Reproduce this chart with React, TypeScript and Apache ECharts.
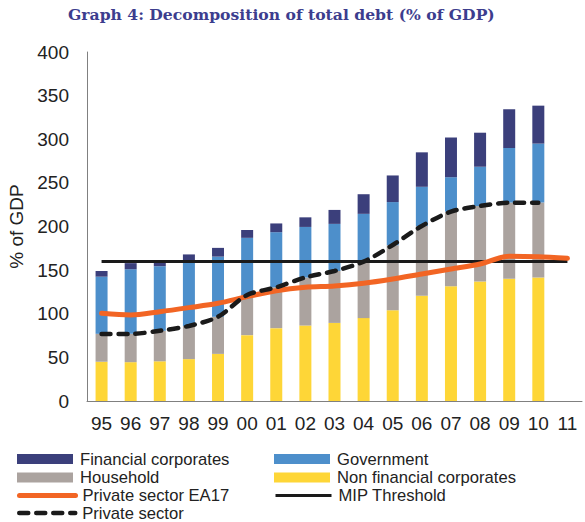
import React, { useEffect, useRef } from "react";
import * as echarts from "echarts";

const years = ["95", "96", "97", "98", "99", "00", "01", "02", "03", "04", "05", "06", "07", "08", "09", "10", "11"];
const nonFinancialCorporates = [45, 44.5, 45.5, 48, 54, 75.5, 83.5, 86.5, 89.5, 95, 104, 120.5, 131.5, 137, 140, 141.5, null];
const household = [32, 32.5, 35, 38, 42.5, 46, 47, 55, 59.5, 64.5, 74.5, 80, 85.5, 86.5, 87.5, 86, null];
const government = [65.5, 74, 74, 75.5, 69, 65.5, 63, 58, 54, 55, 49.5, 45, 39.5, 45, 62.5, 67.5, null];
const financialCorporates = [6.5, 7, 5, 6.5, 10, 9, 10, 11, 16, 22.5, 30.5, 39.5, 45.5, 39, 44.5, 43.5, null];
const privateSectorEA17 = [100.5, 98.6, 102.4, 107, 112, 119.6, 126.4, 130.3, 131.8, 134.9, 139.8, 145.6, 151.3, 157, 166, 165.4, 163.5];
const mipThreshold = [160, 160, 160, 160, 160, 160, 160, 160, 160, 160, 160, 160, 160, 160, 160, 160, 160];
const privateSector = [76.8, 76.8, 80.6, 86, 96.6, 121.5, 130.3, 141.7, 149, 159.7, 178.8, 200.6, 217, 223.5, 227.3, 227.3, null];

const FONT = "'Liberation Sans', Arial, sans-serif";

const NAVY = "#3b3f7b";
const BLUE = "#4d8fcb";
const GREY = "#aba39f";
const YELLOW = "#fed637";
const ORANGE = "#f26524";
const BLACK = "#1a1a1a";

export default function App() {
  const ref = useRef<HTMLDivElement>(null);
  useEffect(() => {
    if (!ref.current) return;
    const chart = echarts.init(ref.current, undefined, { renderer: "svg" });
    const legendText = { fontFamily: FONT, fontSize: 16.6, color: "#222", lineHeight: 18, padding: [0, 0, 0, 2] };
    const rowsY = [459, 477.5, 495.5, 513];
    const mk = (name: string, left: number, row: number, extra: any) => ({
      orient: "horizontal",
      left,
      top: rowsY[row] - 9,
      padding: 0,
      itemWidth: 56,
      itemHeight: 10,
      textStyle: legendText,
      data: [{ name, ...extra }],
    });
    chart.setOption({
      animation: false,
      backgroundColor: "#fff",
      title: {
        text: "Graph 4: Decomposition of total debt (% of GDP)",
        left: 68,
        top: 6,
        padding: 0,
        textStyle: { fontFamily: "'DejaVu Serif', serif", fontWeight: "bold", fontSize: 15.6, color: "#3c3d8e" },
      },
      grid: { left: 87, top: 52, width: 495, height: 349, containLabel: false, outerBoundsMode: "none" },
      legend: [
        mk("Financial corporates", 17, 0, { icon: "rect" }),
        mk("Household", 17, 1, { icon: "rect" }),
        mk("Private sector EA17", 17, 2, { itemStyle: { opacity: 0 }, lineStyle: { width: 5, color: ORANGE, cap: "round" } }),
        mk("Private sector", 17, 3, { itemStyle: { opacity: 0 }, lineStyle: { width: 4.5, color: BLACK, type: [9, 8], cap: "round" } }),
        mk("Government", 274, 0, { icon: "rect" }),
        mk("Non financial corporates", 274, 1, { icon: "rect" }),
        mk("MIP Threshold", 274, 2, { itemStyle: { opacity: 0 }, lineStyle: { width: 3, color: BLACK } }),
      ],
      xAxis: {
        type: "category",
        data: years,
        axisLine: { lineStyle: { color: "#808080", width: 1 } },
        axisTick: { show: false },
        axisLabel: { fontFamily: FONT, fontSize: 19, color: "#222", margin: 13 },
      },
      yAxis: {
        type: "value",
        min: 0,
        max: 400,
        interval: 50,
        name: "% of GDP",
        nameLocation: "middle",
        nameGap: 57,
        nameRotate: 90,
        nameTextStyle: { fontFamily: FONT, fontSize: 19, color: "#222" },
        axisLine: { show: true, lineStyle: { color: "#808080", width: 1 } },
        axisTick: { show: false },
        splitLine: { show: false },
        axisLabel: { fontFamily: FONT, fontSize: 19, color: "#222", margin: 18 },
      },
      series: [
        { name: "Non financial corporates", type: "bar", stack: "total", barWidth: 12, data: nonFinancialCorporates, itemStyle: { color: YELLOW } },
        { name: "Household", type: "bar", stack: "total", barWidth: 12, data: household, itemStyle: { color: GREY } },
        { name: "Government", type: "bar", stack: "total", barWidth: 12, data: government, itemStyle: { color: BLUE } },
        { name: "Financial corporates", type: "bar", stack: "total", barWidth: 12, data: financialCorporates, itemStyle: { color: NAVY } },
        {
          name: "MIP Threshold", type: "line", data: mipThreshold, symbol: "none",
          lineStyle: { color: BLACK, width: 3 }, itemStyle: { color: BLACK },
        },
        {
          name: "Private sector EA17", type: "line", data: privateSectorEA17, symbol: "none", smooth: 0.3,
          lineStyle: { color: ORANGE, width: 5, cap: "round" }, itemStyle: { color: ORANGE },
        },
        {
          name: "Private sector", type: "line", data: privateSector, symbol: "none", smooth: 0.3,
          lineStyle: { color: BLACK, width: 4.5, type: [9, 8], cap: "round" }, itemStyle: { color: BLACK },
        },
      ],
    });
    return () => chart.dispose();
  }, []);
  return <div ref={ref} style={{ width: 585, height: 522, position: "absolute", left: 0, top: 0 }} />;
}
